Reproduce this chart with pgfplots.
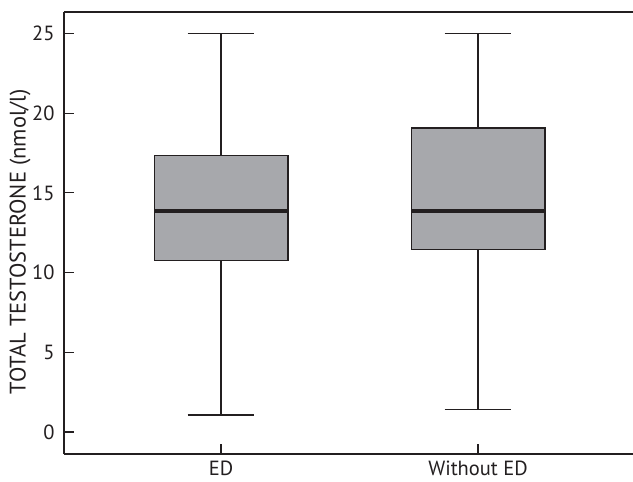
\documentclass[border=0pt]{standalone}
\usepackage{pgfplots}
\pgfplotsset{compat=1.18}
\usepgfplotslibrary{statistics}
\usepackage{fontspec}
\setmainfont{PT Sans}
\definecolor{boxgray}{HTML}{A7A8AC}
\definecolor{ink}{HTML}{231F20}
\begin{document}
\begin{tikzpicture}
\begin{axis}[
  name=ax,
  scale only axis=true,
  width=569pt, height=442pt,
  xmin=-0.611, xmax=1.603,
  ymin=-1.38, ymax=26.35,
  axis x line=box,
  axis y line=left,
  axis line style={-, draw=ink, line width=1.3pt},
  xtick={0,1},
  xticklabels={ED, Without ED},
  ytick={0,5,10,15,20,25},
  xtick pos=bottom, ytick pos=left,
  tick align=inside,
  major tick length=10pt,
  tick style={draw=ink, line width=1.1pt},
  /pgf/number format/assume math mode=true,
  tick label style={font=\fontsize{20.5}{24}\selectfont, text=ink},
  yticklabel style={xshift=-6pt},
  xticklabel style={yshift=-3pt},
  ylabel={\fontsize{22.5}{26}\selectfont TOTAL TESTOSTERONE (nmol/l)},
  ylabel style={text=ink, at={(axis description cs:-0.0773,0.48)}, anchor=center},
  boxplot/draw direction=y,
  boxplot/every median/.style={line width=3.6pt, draw=ink},
  boxplot/every whisker/.style={line width=1.2pt, draw=ink},
  boxplot/every box/.style={line width=1.3pt, draw=ink, fill=boxgray},
  clip=false,
]
\addplot[boxplot prepared={median=13.88, upper quartile=17.33, lower quartile=10.75, upper whisker=25, lower whisker=1.07, draw position=0, box extend=0.52, whisker extend=0.26}, draw=ink, line width=1.2pt] coordinates {};
\addplot[boxplot prepared={median=13.88, upper quartile=19.07, lower quartile=11.44, upper whisker=25, lower whisker=1.40, draw position=1, box extend=0.52, whisker extend=0.26}, draw=ink, line width=1.2pt] coordinates {};
\end{axis}
\pgfresetboundingbox
\path[use as bounding box] ([xshift=-64pt,yshift=-27pt]ax.south west) rectangle ([yshift=12pt]ax.north east);
\end{tikzpicture}
\end{document}
